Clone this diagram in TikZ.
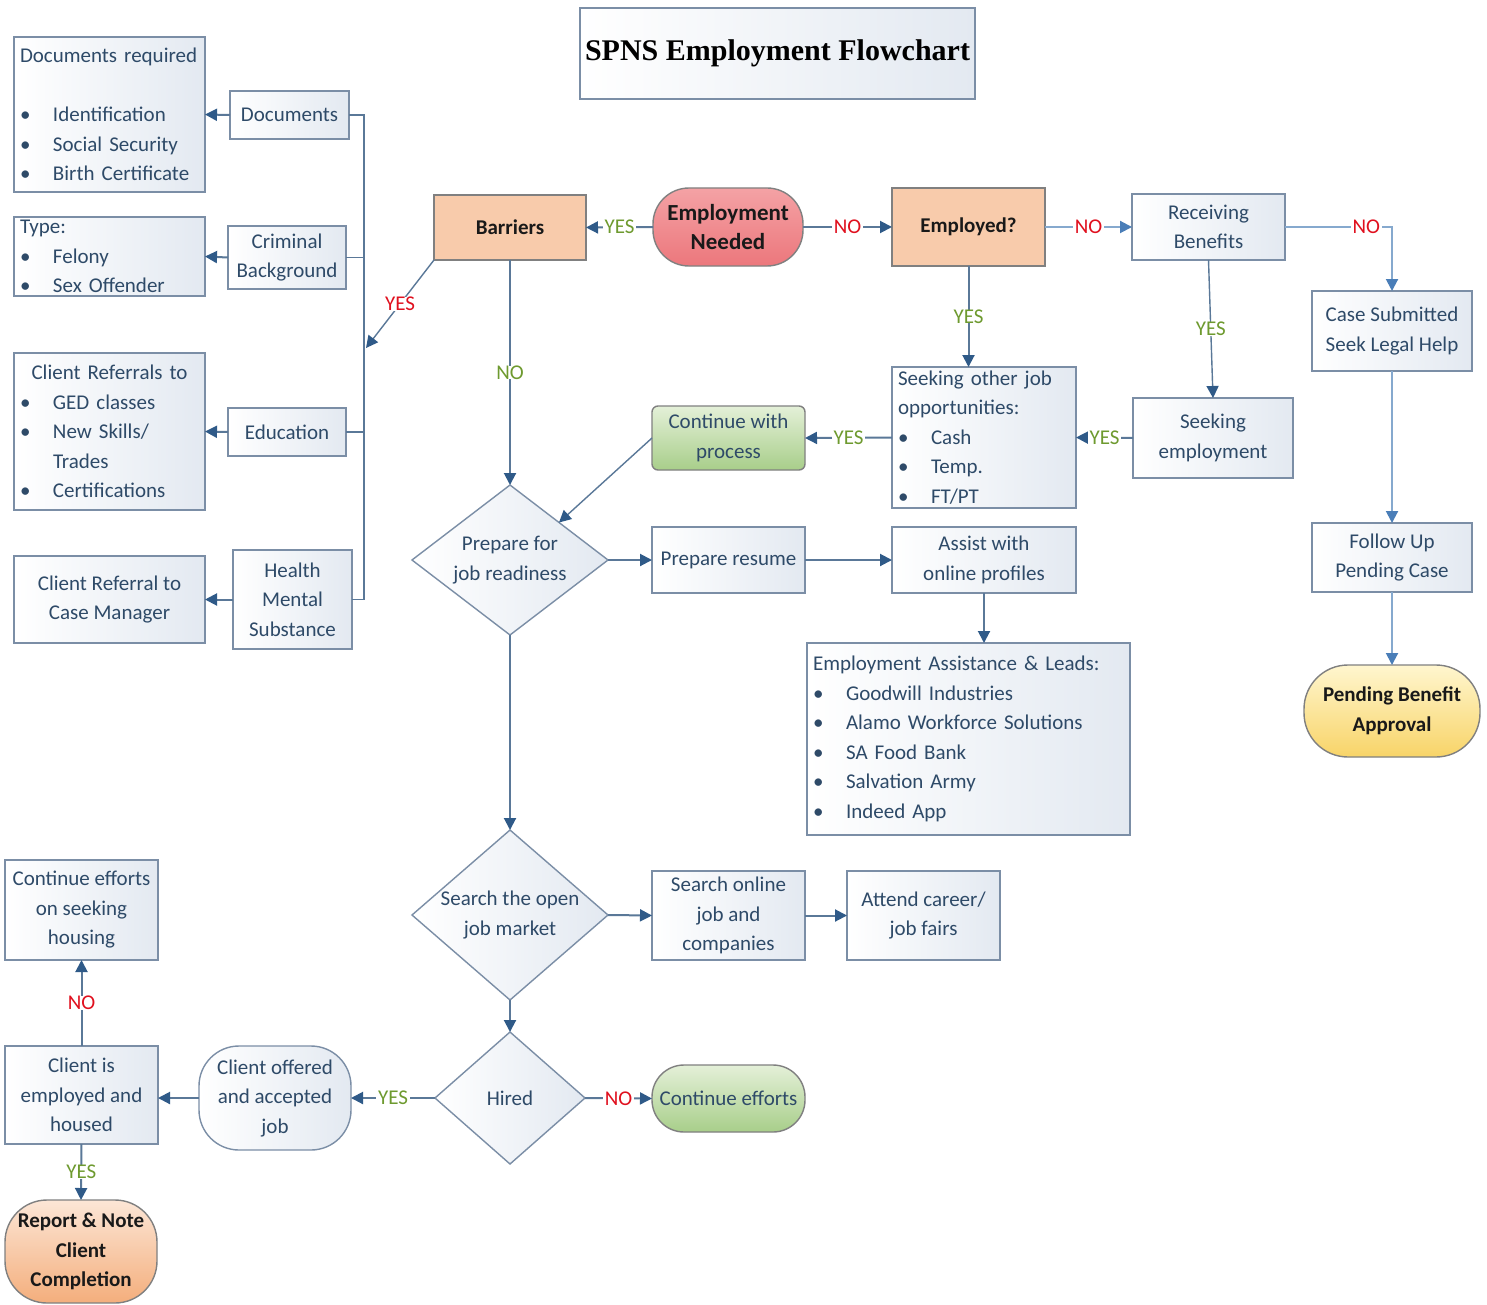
\documentclass[tikz,border=0pt]{standalone}
\usepackage{fontspec}
\setmainfont{Carlito}
\newfontfamily\titlefont{Liberation Serif}
\usetikzlibrary{arrows.meta,shapes.geometric}
\definecolor{ln}{HTML}{5A7898}
\definecolor{tipc}{HTML}{2F5A88}
\definecolor{lnl}{HTML}{86A9CE}
\definecolor{tipl}{HTML}{4A7EB8}
\definecolor{bd}{HTML}{7B8EA6}
\definecolor{tx}{HTML}{2E4A68}
\definecolor{yesc}{HTML}{6E9A2F}
\definecolor{noc}{HTML}{E0101E}
\definecolor{boxb}{HTML}{E3E9F1}
\newcommand\bul{\makebox[16.5pt][l]{\textbullet}}
\newcommand\bx[7][]{\node[box,#1,minimum width={(#5-#3)*0.5pt},minimum height={(#6-#4)*0.5pt}] (#2) at ({(#3+#5)/2},{(#4+#6)/2}) {#7};}
\begin{document}
\begin{tikzpicture}[x=0.5pt,y=-0.5pt,
  box/.style={draw=bd,line width=0.7pt,left color=white,right color=boxb,text=tx,
    font=\fontsize{10.5}{14.75}\selectfont,align=center,inner xsep=2pt,inner ysep=1pt,outer sep=0pt},
  lst/.style={align=left,inner xsep=3pt,text width=#1,execute at begin node={\hyphenpenalty=10000}},
  peach/.style={left color=peachA,right color=peachA,draw=black!50,text=black!90,font=\fontsize{10.5}{14.75}\selectfont\bfseries},
  redst/.style={top color=redA,bottom color=redB,draw=black!50,text=black!90,rounded corners=18pt,font=\fontsize{11.5}{14.75}\selectfont\bfseries},
  greenst/.style={top color=grA,bottom color=grB,draw=black!50,rounded corners=#1},
  yellowst/.style={top color=yeA,bottom color=yeB,draw=black!50,text=black!90,rounded corners=22pt,font=\fontsize{10.5}{14.75}\selectfont\bfseries},
  orangest/.style={top color=orA,bottom color=orB,draw=black!50,text=black!90,rounded corners=21pt,font=\fontsize{10.5}{14.75}\selectfont\bfseries},
  dia/.style={shape=diamond,draw=bd,line width=0.7pt,left color=white,right color=boxb,inner sep=0pt,outer sep=0pt},
  dtxt/.style={text=tx,font=\fontsize{10.5}{14.75}\selectfont,align=center,inner sep=0pt},
  arr/.style={draw=ln,line width=1pt,-{Triangle[length=6pt,width=6pt,color=tipc]}},
  arrl/.style={draw=lnl,line width=1pt,-{Triangle[length=6pt,width=6pt,color=tipl]}},
  bus/.style={draw=ln,line width=0.8pt},
  lab/.style={fill=white,inner xsep=1pt,inner ysep=0pt,font=\fontsize{10.5}{12}\selectfont}
]
\definecolor{peachA}{HTML}{F8CBAB}
\definecolor{redA}{HTML}{F4A2A5}
\definecolor{redB}{HTML}{EC777C}
\definecolor{grA}{HTML}{E4F0D8}
\definecolor{grB}{HTML}{A8CE8A}
\definecolor{yeA}{HTML}{FFF6CF}
\definecolor{yeB}{HTML}{F8D468}
\definecolor{orA}{HTML}{FCE6D6}
\definecolor{orB}{HTML}{F4AE7C}
\useasboundingbox[fill=white] (0,0) rectangle (1487,1305);

% title
\bx[text=black]{title}{580}{8}{975}{99}{{\titlefont\bfseries\fontsize{15}{18}\selectfont SPNS Employment Flowchart}}

% left column
\bx[lst=89.5pt]{dr}{14}{37}{205}{192}{Documents required\\\mbox{}\\\bul Identification\\\bul Social Security\\\bul Birth Certificate}
\bx{docs}{230}{91}{349}{139}{Documents}
\bx[lst=89.5pt]{type}{14}{217}{205}{296}{Type:\\\bul Felony\\\bul Sex Offender}
\bx{cb}{228}{226}{346}{289}{Criminal\\Background}
\bx[lst=89.5pt]{cr}{14}{353}{205}{510}{\makebox[89.5pt][c]{Client Referrals to}\\\bul GED classes\\\bul New Skills/\\\hspace*{16.5pt}Trades\\\bul Certifications}
\bx{edu}{228}{408}{346}{456}{Education}
\bx{crcm}{14}{556}{205}{643}{Client Referral to\\Case Manager}
\bx{hms}{233}{550}{352}{649}{Health\\Mental\\Substance}

% top row
\bx[peach]{bar}{434}{195}{586}{260}{Barriers}
\bx[redst]{en}{653}{188}{803}{266}{Employment\\Needed}
\bx[peach]{emp}{892}{188}{1045}{266}{Employed?}
\bx{rb}{1132}{194}{1285}{260}{Receiving\\Benefits}
\bx{cs}{1312}{291}{1472}{371}{Case Submitted\\Seek Legal Help}
\bx{fu}{1312}{523}{1472}{592}{Follow Up\\Pending Case}
\bx[yellowst]{pba}{1304}{665}{1480}{757}{Pending Benefit\\Approval}

% middle
\bx[lst=86pt]{sok}{892}{367}{1076}{508}{Seeking other job\\opportunities:\\\bul Cash\\\bul Temp.\\\bul FT/PT}
\bx{se}{1133}{398}{1293}{478}{Seeking\\employment}
\bx[greenst=3pt]{cwp}{652}{406}{805}{470}{Continue with\\process}
\bx{pr}{652}{527}{805}{593}{Prepare resume}
\bx{as}{892}{527}{1076}{593}{Assist with\\online profiles}
\bx[lst=155.5pt]{eal}{807}{643}{1130}{835}{Employment Assistance \& Leads:\\\bul Goodwill Industries\\\bul Alamo Workforce Solutions\\\bul SA Food Bank\\\bul Salvation Army\\\bul Indeed App}

% diamonds
\node[dia,minimum width=98pt,minimum height=75pt] (prep) at (510,560) {};
\node[dtxt] (prepT) at (prep.center) {Prepare for\\job readiness};
\node[dia,minimum width=98pt,minimum height=85pt] (search) at (510,915) {};
\node[dtxt] (searchT) at (search.center) {Search the open\\job market};
\node[dia,minimum width=75pt,minimum height=66pt] (hired) at (510,1098) {};
\node[dtxt] (hiredT) at (hired.center) {Hired};

% lower
\bx{so}{652}{871}{805}{960}{Search online\\job and\\companies}
\bx{acf}{847}{871}{1000}{960}{Attend career/\\job fairs}
\bx[greenst=16pt]{ce}{652}{1065}{805}{1132}{Continue efforts}
\bx[rounded corners=20pt]{co}{199}{1046}{351}{1150}{Client offered\\and accepted\\job}
\bx{cie}{5}{1046}{158}{1144}{Client is\\employed and\\housed}
\bx{ceh}{5}{860}{158}{960}{Continue efforts\\on seeking\\housing}
\bx[orangest]{rep}{5}{1200}{157}{1303}{Report \& Note\\Client\\Completion}

% left connectors
\coordinate (busT) at (364,115);
\coordinate (busB) at (364,599.5);
\draw[bus] (docs.east) -- (busT) -- (busB) -- (hms.east);
\draw[bus] (cb.east) -- (cb.east -| busT);
\draw[bus] (edu.east) -- (edu.east -| busT);
\draw[arr] (docs.west) -- (dr.east);
\draw[arr] (cb.west) -- (type.east);
\draw[arr] (edu.west) -- (cr.east);
\draw[arr] (hms.west) -- (crcm.east);

\coordinate (ybus) at (366,348);
\draw[arr,line width=0.7pt] (bar.south west) -- node[lab,text=noc] (l1) {YES} (ybus);

% top row connectors
\draw[arr] (en.west) -- node[lab,text=yesc] (l2) {YES} (bar.east);
\draw[arr] (en.east) -- node[lab,text=noc] (l3) {NO} (emp.west);
\draw[arrl] (emp.east) -- node[lab,text=noc] (l4) {NO} (rb.west);
\draw[arrl] (rb.east) -| node[lab,text=noc,pos=0.38] (l5) {NO} (cs.north);
\draw[arrl] (cs.south) -- (fu.north);
\draw[arrl] (fu.south) -- (pba.north);

\draw[arr] (emp.south) -- node[lab,text=yesc] (l6) {YES} (emp.south |- sok.north);
\draw[arr,line width=0.7pt] (rb.south) -- node[lab,text=yesc] (l7) {YES} (se.north);
\draw[arr] (se.west) -- node[lab,text=yesc] (l8) {YES} (sok.east);
\draw[arr] (sok.west) -- node[lab,text=yesc] (l9) {YES} (cwp.east);
\draw[arr,line width=0.7pt] (cwp.west) -- (prep.north east);

\draw[arr] (bar.south) -- node[lab,text=yesc] (l10) {NO} (prep.north);
\draw[arr] (prep.east) -- (pr.west);
\draw[arr] (pr.east) -- (as.west);
\draw[arr] (as.south) -- (as.south |- eal.north);

\draw[arr] (prep.south) -- (search.north);
\draw[arr] (search.east) -- (so.west);
\draw[arr] (so.east) -- (acf.west);
\draw[arr] (search.south) -- (hired.north);
\draw[arr] (hired.east) -- node[lab,text=noc] (l11) {NO} (ce.west);
\draw[arr] (hired.west) -- node[lab,text=yesc] (l12) {YES} (hired.west -| co.east);
\draw[arr] (co.west) -- (co.west -| cie.east);
\draw[arr] (cie.north) -- node[lab,text=noc] (l13) {NO} (ceh.south);
\draw[arr] (cie.south) -- node[lab,text=yesc] (l14) {YES} (rep.north);
\end{tikzpicture}
\end{document}
